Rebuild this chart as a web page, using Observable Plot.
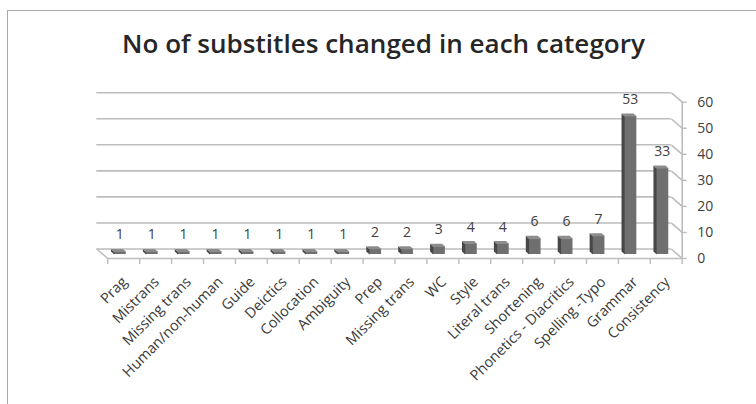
<!DOCTYPE html>
<html><head><meta charset="utf-8">
<script src="https://cdn.jsdelivr.net/npm/d3@7"></script>
<script src="https://cdn.jsdelivr.net/npm/@observablehq/plot@0.6"></script>
<style>
html,body{margin:0;padding:0;background:#fff}
body{width:756px;height:404px;overflow:hidden;position:relative;font-family:"Open Sans",sans-serif}
#frame{position:absolute;left:7px;top:10px;width:820px;height:520px;border:1.5px solid #a9a9a9;box-sizing:border-box}
#title{position:absolute;left:0;top:31px;white-space:nowrap;font-size:25px;line-height:25px;color:#262626;font-weight:600;transform-origin:0 50%}
#chart{position:absolute;left:0;top:0}
</style>
</head><body>
<div id="frame"></div>
<div id="chart"></div>
<div id="title">No of substitles changed in each category</div>
<script>
const categories = ["Prag","Mistrans","Missing trans","Human/non-human","Guide","Deictics","Collocation","Ambiguity","Prep","Missing trans","WC","Style","Literal trans","Shortening","Phonetics - Diacritics","Spelling -Typo","Grammar","Consistency"];
const counts = [1,1,1,1,1,1,1,1,2,2,3,4,4,6,6,7,53,33];
const yTicks = [0,10,20,30,40,50,60];

// layout (pixels)
const W = 756, H = 404;
const X0 = 107.3, X1 = 681.7, Y0 = 258, Y60 = 101.7;
const N = categories.length;
const pxX = (X1 - X0) / N, pxY = (Y0 - Y60) / 60;
const wallDX = -11, wallDY = -9.5;      // depth of floor/back wall in px
const barDX = -3.5, barDY = -4;         // bar front-face offset in px
const hw = 6 / pxX;                     // half width of bar face (data units)
const sdX = 3.3 / pxX, sdY = 3 / pxY;   // bar depth (data units)

const data = categories.map((c, i) => ({i, c, v: counts[i]}));
const bounds = categories.map((_, i) => i).concat(N);

const topFaces = data.flatMap(d => {
  const L = d.i + 0.5 - hw, R = d.i + 0.5 + hw;
  return [[L, d.v], [R, d.v], [R - sdX, d.v + sdY], [L - sdX, d.v + sdY], [L, d.v]]
    .map(([x, y]) => ({id: d.i, x, y}));
});
const sideFaces = data.flatMap(d => {
  const L = d.i + 0.5 - hw;
  return [[L, 0], [L, d.v], [L - sdX, d.v + sdY], [L - sdX, sdY], [L, 0]]
    .map(([x, y]) => ({id: d.i, x, y}));
});

const grid = "#bdbdbd";
const chart = Plot.plot({
  width: W, height: H,
  marginLeft: X0, marginRight: W - X1, marginTop: Y60, marginBottom: H - Y0,
  x: {type: "linear", domain: [0, N], axis: null},
  y: {type: "linear", domain: [0, 60], axis: null},
  style: {fontFamily: "Open Sans, sans-serif", background: "transparent", overflow: "visible"},
  marks: [
    Plot.ruleY(yTicks, {x1: 0, x2: N, dx: wallDX, dy: wallDY, stroke: grid, strokeWidth: 1.6}),
    Plot.link(yTicks, {x1: N + wallDX / pxX, y1: d => d - wallDY / pxY, x2: N, y2: d => d, stroke: grid, strokeWidth: 1.6}),
    Plot.ruleY([0], {x1: 0, x2: N, stroke: grid, strokeWidth: 1.6}),
    Plot.link([0], {x1: wallDX / pxX, y1: -wallDY / pxY, x2: 0, y2: 0, stroke: grid, strokeWidth: 1.6}),
    Plot.ruleX(bounds, {y1: 0, y2: -6 / pxY, stroke: grid, strokeWidth: 1.4}),
    Plot.ruleX([N], {y1: 0, y2: 60, stroke: grid, strokeWidth: 1.6}),
    Plot.ruleY(yTicks, {x1: N, x2: N + 5 / pxX, stroke: grid, strokeWidth: 1.4}),
    Plot.text(yTicks, {x: N, y: d => d, text: d => String(d), textAnchor: "start", dx: 15, fontSize: 14, fill: "#404040"}),
    Plot.rect(data, {x1: d => d.i + 0.5 - hw, x2: d => d.i + 0.5 + hw, y1: 0, y2: "v", dx: barDX, dy: barDY, fill: "#6f6f6f"}),
    Plot.line(sideFaces, {x: "x", y: "y", z: "id", fill: "#474747", stroke: "none", dx: barDX, dy: barDY}),
    Plot.line(topFaces, {x: "x", y: "y", z: "id", fill: "#8c8c8c", stroke: "none", dx: barDX, dy: barDY}),
    Plot.text(data, {x: d => d.i + 0.5, y: "v", text: d => String(d.v), dx: -4, dy: -21, fontSize: 14, fill: "#404040"}),
    Plot.text(data, {x: d => d.i + 0.5, y: 0, text: "c", rotate: -45, textAnchor: "end", dx: 1, dy: 21, fontSize: 14.5, fill: "#3a3a3a"})
  ]
});
document.getElementById("chart").appendChild(chart);

const t = document.getElementById("title");
const tw = t.getBoundingClientRect().width;
const target = 523, cx = 383.4;
t.style.transform = `scaleX(${target / tw})`;
t.style.left = (cx - target / 2) + "px";
</script>
</body></html>
